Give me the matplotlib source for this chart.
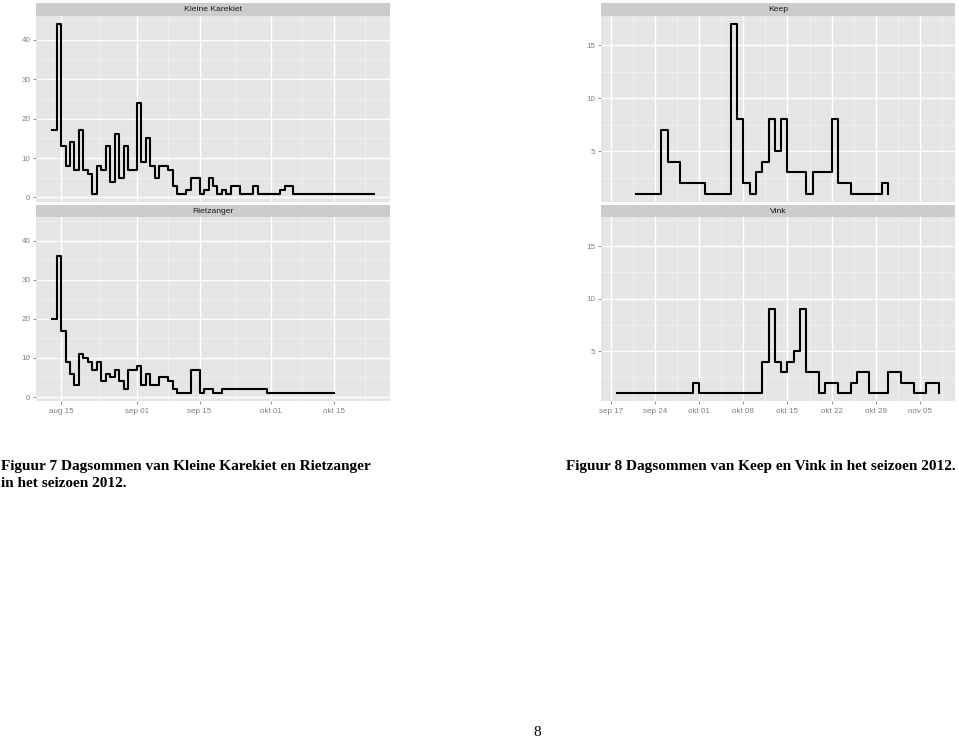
import matplotlib
matplotlib.use("Agg")
import matplotlib.pyplot as plt
import matplotlib.dates as mdates
import pandas as pd
import numpy as np

# daily sums per species (date, count)
kk_dates = ["2012-08-13", "2012-08-14", "2012-08-15", "2012-08-16", "2012-08-17", "2012-08-18",
            "2012-08-19", "2012-08-20", "2012-08-21", "2012-08-22", "2012-08-23", "2012-08-24",
            "2012-08-25", "2012-08-26", "2012-08-27", "2012-08-28", "2012-08-29", "2012-08-30",
            "2012-09-01", "2012-09-02", "2012-09-03", "2012-09-04", "2012-09-05", "2012-09-06",
            "2012-09-08", "2012-09-09", "2012-09-10", "2012-09-12", "2012-09-13", "2012-09-15",
            "2012-09-16", "2012-09-17", "2012-09-18", "2012-09-19", "2012-09-20", "2012-09-21",
            "2012-09-22", "2012-09-24", "2012-09-27", "2012-09-28", "2012-10-03", "2012-10-04",
            "2012-10-06", "2012-10-24"]
kk_counts = [17, 44, 13, 8, 14, 7, 17, 7, 6, 1, 8, 7, 13, 4, 16, 5, 13, 7,
             24, 9, 15, 8, 5, 8, 7, 3, 1, 2, 5, 1, 2, 5, 3, 1, 2, 1, 3, 1, 3, 1, 2, 3, 1, 1]

rz_dates = ["2012-08-13", "2012-08-14", "2012-08-15", "2012-08-16", "2012-08-17", "2012-08-18",
            "2012-08-19", "2012-08-20", "2012-08-21", "2012-08-22", "2012-08-23", "2012-08-24",
            "2012-08-25", "2012-08-26", "2012-08-27", "2012-08-28", "2012-08-29", "2012-08-30",
            "2012-09-01", "2012-09-02", "2012-09-03", "2012-09-04", "2012-09-06", "2012-09-08",
            "2012-09-09", "2012-09-10", "2012-09-13", "2012-09-15", "2012-09-16", "2012-09-18",
            "2012-09-20", "2012-09-30", "2012-10-15"]
rz_counts = [20, 36, 17, 9, 6, 3, 11, 10, 9, 7, 9, 4, 6, 5, 7, 4, 2, 7,
             8, 3, 6, 3, 5, 4, 2, 1, 7, 1, 2, 1, 2, 1, 1]

keep_dates = ["2012-09-21", "2012-09-25", "2012-09-26", "2012-09-28", "2012-10-02", "2012-10-06",
              "2012-10-07", "2012-10-08", "2012-10-09", "2012-10-10", "2012-10-11", "2012-10-12",
              "2012-10-13", "2012-10-14", "2012-10-15", "2012-10-18", "2012-10-19", "2012-10-22",
              "2012-10-23", "2012-10-25", "2012-10-30", "2012-10-31"]
keep_counts = [1, 7, 4, 2, 1, 17, 8, 2, 1, 3, 4, 8, 5, 8, 3, 1, 3, 8, 2, 1, 2, 1]

vink_dates = ["2012-09-18", "2012-09-30", "2012-10-01", "2012-10-11", "2012-10-12", "2012-10-13",
              "2012-10-14", "2012-10-15", "2012-10-16", "2012-10-17", "2012-10-18", "2012-10-20",
              "2012-10-21", "2012-10-23", "2012-10-25", "2012-10-26", "2012-10-28", "2012-10-31",
              "2012-11-02", "2012-11-04", "2012-11-06", "2012-11-08"]
vink_counts = [1, 2, 1, 4, 9, 4, 3, 4, 5, 9, 3, 1, 2, 1, 2, 3, 1, 3, 2, 1, 2, 1]

left_ticks = ["2012-08-15", "2012-09-01", "2012-09-15", "2012-10-01", "2012-10-15"]
left_labels = ["aug 15", "sep 01", "sep 15", "okt 01", "okt 15"]
right_ticks = ["2012-09-17", "2012-09-24", "2012-10-01", "2012-10-08", "2012-10-15",
               "2012-10-22", "2012-10-29", "2012-11-05"]
right_labels = ["sep 17", "sep 24", "okt 01", "okt 08", "okt 15", "okt 22", "okt 29", "nov 05"]

left_yticks = [0, 10, 20, 30, 40]
right_yticks = [5, 10, 15]

W, H = 959, 741
fig = plt.figure(figsize=(W / 100, H / 100), dpi=100)
fig.patch.set_facecolor("white")

GREY_BG = "#E5E5E5"
STRIP = "#CCCCCC"
TXT = "#7F7F7F"


def box(x0, y0, x1, y1):
    # pixel box (top-left origin) -> figure fraction rect
    return [x0 / W, 1 - y1 / H, (x1 - x0) / W, (y1 - y0) / H]


def expand(lo, hi, frac=0.05):
    d = (hi - lo) * frac
    return lo - d, hi + d


def num(dates):
    return mdates.date2num(pd.to_datetime(dates))


def minor_mid(vals, lo, hi):
    vals = np.asarray(vals, dtype=float)
    step = np.diff(vals)
    ext = np.concatenate([[vals[0] - step[0]], vals, [vals[-1] + step[-1]]])
    mids = (ext[:-1] + ext[1:]) / 2
    return [m for m in mids if lo < m < hi]


def strip(rect, title):
    sa = fig.add_axes(rect)
    sa.set_facecolor(STRIP)
    sa.set_xticks([])
    sa.set_yticks([])
    for s in sa.spines.values():
        s.set_visible(False)
    sa.text(0.5, 0.45, title, ha="center", va="center", fontsize=6.1,
            color="#1A1A1A", family="Liberation Sans", transform=sa.transAxes)


def panel(rect, dates, counts, xlim, ylim, xt, xl, yt, show_x):
    ax = fig.add_axes(rect)
    ax.set_facecolor(GREY_BG)
    for s in ax.spines.values():
        s.set_visible(False)
    xt_num = num(xt)
    # grid lines like ggplot
    for m in minor_mid(xt_num, *xlim):
        ax.axvline(m, color="#F2F2F2", lw=0.5, zorder=1)
    for m in minor_mid(yt, *ylim):
        ax.axhline(m, color="#F2F2F2", lw=0.5, zorder=1)
    for t in xt_num:
        ax.axvline(t, color="white", lw=1.0, zorder=1)
    for t in yt:
        ax.axhline(t, color="white", lw=1.0, zorder=1)
    ax.step(num(dates), counts, where="post", color="black", lw=1.5, zorder=3)
    ax.set_xlim(*xlim)
    ax.set_ylim(*ylim)
    ax.set_yticks(yt)
    ax.set_yticklabels([str(v) for v in yt])
    ax.tick_params(axis="y", length=2.5, width=0.6, color=TXT, labelcolor=TXT,
                   labelsize=5.8, pad=1.5)
    if show_x:
        ax.set_xticks(xt_num)
        ax.set_xticklabels(xl)
        ax.tick_params(axis="x", length=2.5, width=0.6, color=TXT, labelcolor=TXT,
                       labelsize=5.8, pad=2.5)
    else:
        ax.set_xticks([])
    for lab in ax.get_xticklabels() + ax.get_yticklabels():
        lab.set_family("Liberation Sans")
    return ax


# left figure: Kleine Karekiet and Rietzanger
lx = num(kk_dates + rz_dates)
left_xlim = expand(lx.min(), lx.max())
left_ylim = expand(min(kk_counts + rz_counts), max(kk_counts + rz_counts))
strip(box(36, 3, 390, 15.5), "Kleine Karekiet")
panel(box(36, 15.5, 390, 202), kk_dates, kk_counts, left_xlim, left_ylim,
      left_ticks, left_labels, left_yticks, False)
strip(box(36, 204.5, 390, 216.7), "Rietzanger")
panel(box(36, 216.7, 390, 401.5), rz_dates, rz_counts, left_xlim, left_ylim,
      left_ticks, left_labels, left_yticks, True)

# right figure: Keep and Vink
rx = num(keep_dates + vink_dates)
right_xlim = expand(rx.min(), rx.max())
right_ylim = expand(min(keep_counts + vink_counts), max(keep_counts + vink_counts))
strip(box(601, 3, 955, 15.5), "Keep")
panel(box(601, 15.5, 955, 202), keep_dates, keep_counts, right_xlim, right_ylim,
      right_ticks, right_labels, right_yticks, False)
strip(box(601, 204.5, 955, 216.7), "Vink")
panel(box(601, 216.7, 955, 401.5), vink_dates, vink_counts, right_xlim, right_ylim,
      right_ticks, right_labels, right_yticks, True)

# captions
cap = dict(family="Liberation Serif", weight="bold", fontsize=10.95, color="black",
           va="center", ha="left")
fig.text(1 / W, 1 - 466 / H, "Figuur 7 Dagsommen van Kleine Karekiet en Rietzanger", **cap)
fig.text(1 / W, 1 - 484 / H, "in het seizoen 2012.", **cap)
fig.text(566 / W, 1 - 466 / H, "Figuur 8 Dagsommen van Keep en Vink in het seizoen 2012.", **cap)
fig.text(537 / W, 1 - 733 / H, "8", family="Liberation Serif", fontsize=11,
         ha="center", va="center")

fig.savefig("out.png", dpi=100)
